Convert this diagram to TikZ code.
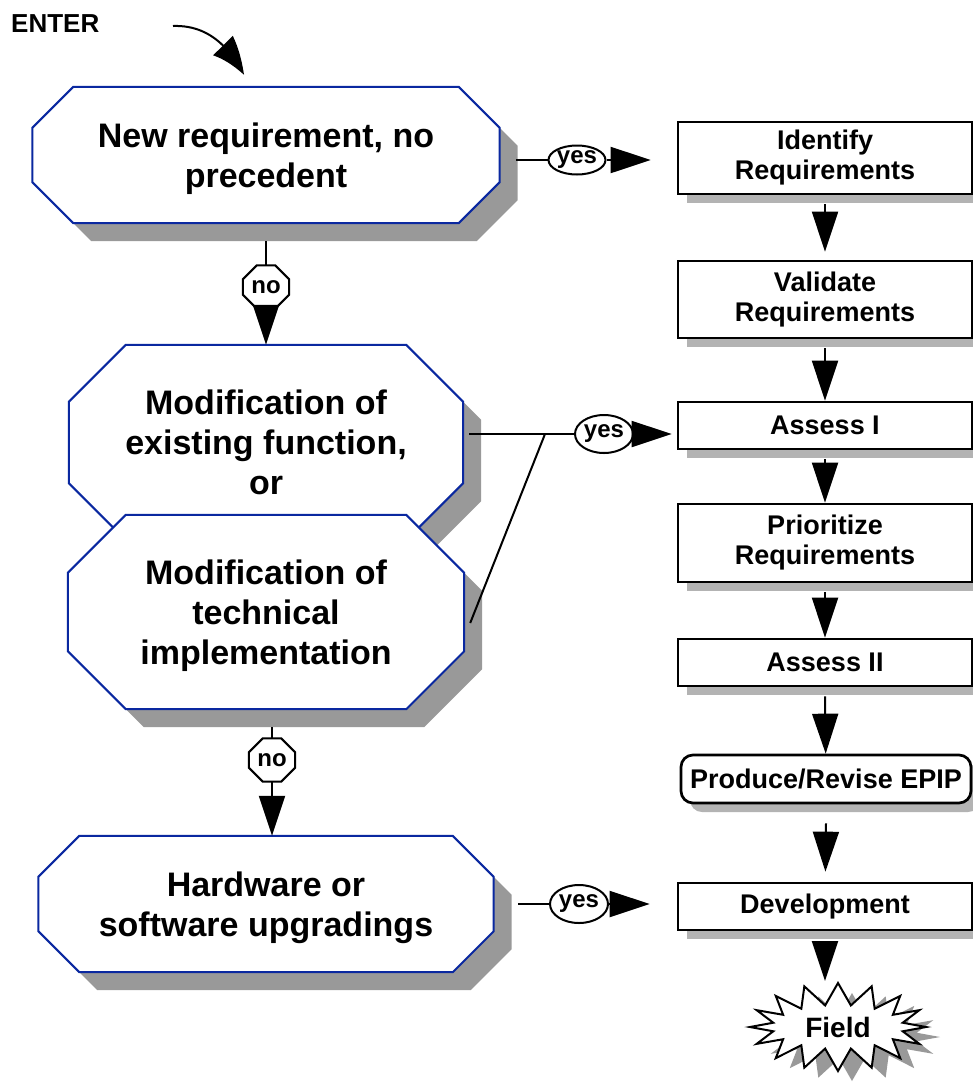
\documentclass[tikz,border=0pt]{standalone}
\usepackage{fontspec}
\setmainfont{Liberation Sans}
\usepackage{tikz}
\usetikzlibrary{shapes.geometric, shapes.symbols, arrows.meta, bending, positioning, shadows, backgrounds}
\definecolor{octblue}{RGB}{10,40,160}
\definecolor{octshade}{RGB}{153,153,153}
\definecolor{boxshade}{RGB}{179,179,179}
\newcommand{\octpath}[2]{([xshift=#2]#1.north west) -- ([xshift=-#2]#1.north east) -- ([yshift=-#2]#1.north east) -- ([yshift=#2]#1.south east) -- ([xshift=-#2]#1.south east) -- ([xshift=#2]#1.south west) -- ([yshift=#2]#1.south west) -- ([yshift=-#2]#1.north west) -- cycle}
\tikzstyle{decision} = [rectangle, inner sep=0pt, text depth=0pt, align=center, font=\fontsize{34}{40}\selectfont\bfseries]
\tikzstyle{octframe} = [draw=octblue, line width=2pt, fill=white, drop shadow={shadow xshift=18pt, shadow yshift=-18pt, fill=octshade, opacity=1}]
\tikzstyle{noframe} = [draw=black, line width=2pt, fill=white]
\tikzstyle{process} = [rectangle, minimum width=294pt, draw=black, line width=2.7pt, fill=white, align=center, font=\fontsize{27}{30}\selectfont\bfseries, drop shadow={shadow xshift=9pt, shadow yshift=-9pt, fill=boxshade, opacity=1}]
\tikzstyle{answer} = [ellipse, draw=black, line width=2pt, fill=white, inner sep=0pt, minimum width=58pt, minimum height=38pt, font=\fontsize{24}{24}\selectfont\bfseries]
\tikzstyle{nobox} = [rectangle, inner sep=0pt, minimum width=46pt, minimum height=43pt, font=\fontsize{24}{24}\selectfont\bfseries]
\tikzstyle{conn} = [line width=2pt]
\tikzstyle{arrow} = [line width=2pt, -{Triangle[length=40pt, width=26pt]}]

\begin{document}
\begin{tikzpicture}[x=1pt, y=-1pt]
\useasboundingbox (0,0) rectangle (973,1085);

\node (enter) [anchor=base west, inner sep=0pt, font=\fontsize{26}{26}\selectfont\bfseries] at (11,32) {ENTER};
\coordinate (entry) at (173,26);

\node (newreq) [decision, minimum width=467pt, minimum height=136pt] at (266,155) {New requirement, no\\precedent};
\node (no1) [nobox] at (266,287) {no};
\node (modfunc) [decision, minimum width=394pt, minimum height=195pt] at (266,442.5) {Modification of\\existing function,\\or};
\node (modtech) [decision, minimum width=396pt, minimum height=194pt] at (266,612) {Modification of\\technical\\implementation};
\node (no2) [nobox] at (272,760) {no};
\node (hardware) [decision, minimum width=455pt, minimum height=136pt] at (266,904) {Hardware or\\software upgradings};

\begin{pgfonlayer}{background}
\path [octframe] \octpath{newreq}{41pt};
\path [octframe] \octpath{modfunc}{57pt};
\path [octframe] \octpath{modtech}{58pt};
\path [octframe] \octpath{hardware}{41pt};
\path [noframe] \octpath{no1}{14pt};
\path [noframe] \octpath{no2}{14pt};
\end{pgfonlayer}

\node (identify) [process, minimum height=72pt] at (825,158) {Identify\\Requirements};
\node (validate) [process, minimum height=77pt] at (825,299.5) {Validate\\Requirements};
\node (assess1) [process, minimum height=47pt] at (825,425.5) {Assess I};
\node (prioritize) [process, minimum height=78pt] at (825,543) {Prioritize\\Requirements};
\node (assess2) [process, minimum height=47pt] at (825,662.5) {Assess II};
\node (produce) [process, rounded corners=12pt, minimum width=290pt, minimum height=48pt] at (826,779) {Produce/Revise EPIP};
\node (development) [process, minimum height=47pt] at (825,906.5) {Development};
\node (field) [starburst, starburst points=16, starburst point height=22pt, random starburst=0, draw=black, line width=2pt, fill=white, minimum width=176pt, minimum height=88pt, font=\fontsize{28}{28}\selectfont\bfseries, drop shadow={shadow xshift=14pt, shadow yshift=-10pt, fill=octshade, opacity=1}] at (838,1027) {Field};

\node (yes1) [answer, minimum width=57pt, minimum height=29pt] at (577,160) {yes};
\node (yes2) [answer] at (604,434) {yes};
\node (yes3) [answer] at (579,904) {yes};
\coordinate (join) at (545,434);

\draw [line width=2pt, -{Triangle[length=38pt, width=27pt, bend]}] (entry) to[out=2, in=118] ([xshift=-22pt, yshift=12pt]newreq.north);

\draw [conn, shorten >=18pt] (no1) -- (newreq);
\draw [arrow] (no1) -- (modfunc);
\draw [conn, shorten >=18pt] (no2) -- (no2 |- modtech.south);
\draw [arrow] (no2) -- (no2 |- hardware.north);

\draw [conn, shorten >=16pt] (yes1) -- (yes1 -| newreq.east);
\draw [arrow, shorten >=26pt] (yes1) -- (yes1 -| identify.west);
\draw [conn, shorten >=6pt] (yes2) -- (yes2 -| modfunc.east);
\draw [conn] (join) -- ([shift={(6pt,-11pt)}]modtech.east);
\draw [arrow, shorten >=5pt] (yes2) -- (yes2 -| assess1.west);
\draw [conn, shorten >=24pt] (yes3) -- (yes3 -| hardware.east);
\draw [arrow, shorten >=27pt] (yes3) -- (yes3 -| development.west);

\draw [arrow, shorten >=8pt] ([yshift=-9pt]identify.south) -- (validate);
\draw [arrow] ([yshift=-9pt]validate.south) -- (assess1);
\draw [arrow] ([yshift=-9pt]assess1.south) -- (prioritize);
\draw [arrow] ([yshift=-9pt]prioritize.south) -- (assess2);
\draw [arrow] ([yshift=-9pt]assess2.south) -- (produce);
\draw [arrow, shorten >=10pt] ([yshift=-19pt]produce.south) -- (development);
\draw [arrow] ([yshift=-10pt]development.south) -- (development.south |- field.north);

\end{tikzpicture}
\end{document}
